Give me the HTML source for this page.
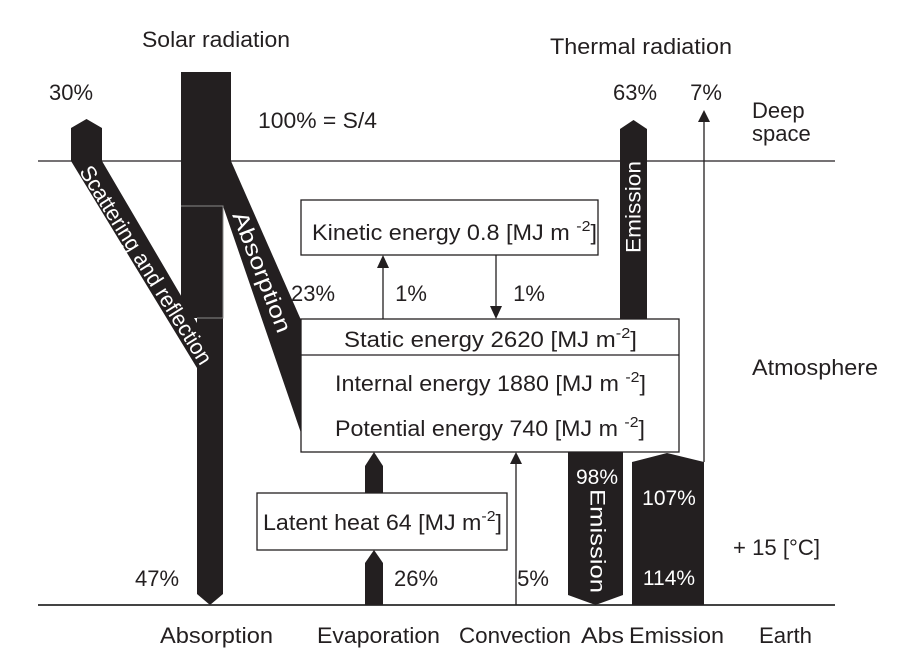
<!DOCTYPE html>
<html><head><meta charset="utf-8"><style>
html,body{margin:0;padding:0;background:#fff;}
svg{display:block;font-family:"Liberation Sans",Arial,sans-serif;}
text{fill:#231f20;font-size:22px;}
.w{fill:#fff;font-size:21px;}
.r{fill:#fff;font-size:22px;}
</style></head><body>
<svg width="910" height="668" viewBox="0 0 910 668">
<line x1="38" y1="161" x2="835" y2="161" stroke="#231f20" stroke-width="1.3"/>
<line x1="38" y1="605" x2="835" y2="605" stroke="#444" stroke-width="2"/>

<g fill="#231f20">
<rect x="181" y="72" width="50" height="134"/>
<rect x="181" y="206" width="42" height="112"/>
<polygon points="197,318 223,318 223,594 210,605 197,594"/>
<polygon points="71,128 86.5,119 102,128 102,161 197,323 197,368 71,161"/>
<polygon points="223,161 231,161 301,320 301,433 223,206"/>
</g>
<g stroke="#888" stroke-width="1" fill="none">
<polyline points="181,206 223,206 223,318 197,318"/>
</g>

<polygon points="620,129 633.5,120 647,129 647,319 620,319" fill="#231f20"/>
<polygon points="568,452 623,452 623,595 595.5,605 568,595" fill="#231f20"/>
<polygon points="632,462 667,453 704,462 704,605 632,605" fill="#231f20"/>
<line x1="704" y1="120" x2="704" y2="462" stroke="#231f20" stroke-width="1.3"/>
<polygon points="698,122 704,110 710,122" fill="#231f20"/>

<rect x="301" y="200" width="297" height="55" fill="#fff" stroke="#231f20" stroke-width="1.3"/>
<rect x="301" y="319" width="378" height="133" fill="#fff" stroke="#231f20" stroke-width="1.3"/>
<line x1="301" y1="355" x2="679" y2="355" stroke="#231f20" stroke-width="1.3"/>
<rect x="257" y="493" width="250" height="57" fill="#fff" stroke="#231f20" stroke-width="1.3"/>

<line x1="383" y1="266" x2="383" y2="319" stroke="#231f20" stroke-width="1.3"/>
<polygon points="377,268 383,255 389,268" fill="#231f20"/>
<line x1="496" y1="255" x2="496" y2="308" stroke="#231f20" stroke-width="1.3"/>
<polygon points="490,306 496,319 502,306" fill="#231f20"/>
<line x1="516" y1="462" x2="516" y2="605" stroke="#231f20" stroke-width="1.3"/>
<polygon points="510,464 516,452 522,464" fill="#231f20"/>
<polygon points="365,466 374,452 383,466 383,493 365,493" fill="#231f20"/>
<polygon points="365,563 374,550 383,563 383,605 365,605" fill="#231f20"/>

<text class="r" transform="rotate(58 146 265)" x="146" y="265" text-anchor="middle" dominant-baseline="central" textLength="230" lengthAdjust="spacingAndGlyphs">Scattering and reflection</text>
<text class="r" transform="rotate(69 262 272)" x="262" y="272" text-anchor="middle" dominant-baseline="central" textLength="128" lengthAdjust="spacingAndGlyphs">Absorption</text>
<text class="w" transform="rotate(-90 634 207)" x="634" y="207" text-anchor="middle" dominant-baseline="central" textLength="92" lengthAdjust="spacingAndGlyphs">Emission</text>
<text class="w" transform="rotate(90 597 541)" x="597" y="541" text-anchor="middle" dominant-baseline="central" textLength="104" lengthAdjust="spacingAndGlyphs">Emission</text>
<text class="w" x="597" y="484" text-anchor="middle">98%</text>
<text class="w" x="669" y="505" text-anchor="middle">107%</text>
<text class="w" x="669" y="585" text-anchor="middle">114%</text>

<text x="312" y="240" textLength="285" lengthAdjust="spacingAndGlyphs">Kinetic energy 0.8 [MJ m <tspan dy="-9" font-size="15">-2</tspan><tspan dy="9">]</tspan></text>
<text x="344" y="347" textLength="293" lengthAdjust="spacingAndGlyphs">Static energy 2620 [MJ m<tspan dy="-9" font-size="15">-2</tspan><tspan dy="9">]</tspan></text>
<text x="335" y="391" textLength="311" lengthAdjust="spacingAndGlyphs">Internal energy 1880 [MJ m <tspan dy="-9" font-size="15">-2</tspan><tspan dy="9">]</tspan></text>
<text x="335" y="436" textLength="310" lengthAdjust="spacingAndGlyphs">Potential energy 740 [MJ m <tspan dy="-9" font-size="15">-2</tspan><tspan dy="9">]</tspan></text>
<text x="263" y="530" textLength="239" lengthAdjust="spacingAndGlyphs">Latent heat 64 [MJ m<tspan dy="-9" font-size="15">-2</tspan><tspan dy="9">]</tspan></text>

<text x="71" y="100" text-anchor="middle">30%</text>
<text x="258" y="128" textLength="119" lengthAdjust="spacingAndGlyphs">100% = S/4</text>
<text x="635" y="100" text-anchor="middle">63%</text>
<text x="706" y="100" text-anchor="middle">7%</text>
<text x="313" y="301" text-anchor="middle">23%</text>
<text x="411" y="301" text-anchor="middle">1%</text>
<text x="529" y="301" text-anchor="middle">1%</text>
<text x="157" y="586" text-anchor="middle">47%</text>
<text x="416" y="586" text-anchor="middle">26%</text>
<text x="533" y="586" text-anchor="middle">5%</text>

<text x="142" y="47" textLength="148" lengthAdjust="spacingAndGlyphs">Solar radiation</text>
<text x="550" y="54" textLength="182" lengthAdjust="spacingAndGlyphs">Thermal radiation</text>
<text x="752" y="118">Deep</text>
<text x="752" y="141">space</text>
<text x="752" y="375" textLength="126" lengthAdjust="spacingAndGlyphs">Atmosphere</text>
<text x="733" y="555" textLength="87" lengthAdjust="spacingAndGlyphs">+ 15 [°C]</text>
<text x="759" y="643" textLength="53" lengthAdjust="spacingAndGlyphs">Earth</text>
<text x="160" y="643" textLength="113" lengthAdjust="spacingAndGlyphs">Absorption</text>
<text x="317" y="643" textLength="123" lengthAdjust="spacingAndGlyphs">Evaporation</text>
<text x="459" y="643" textLength="112" lengthAdjust="spacingAndGlyphs">Convection</text>
<text x="581" y="643" textLength="43" lengthAdjust="spacingAndGlyphs">Abs</text>
<text x="629" y="643" textLength="95" lengthAdjust="spacingAndGlyphs">Emission</text>
</svg>
</body></html>
